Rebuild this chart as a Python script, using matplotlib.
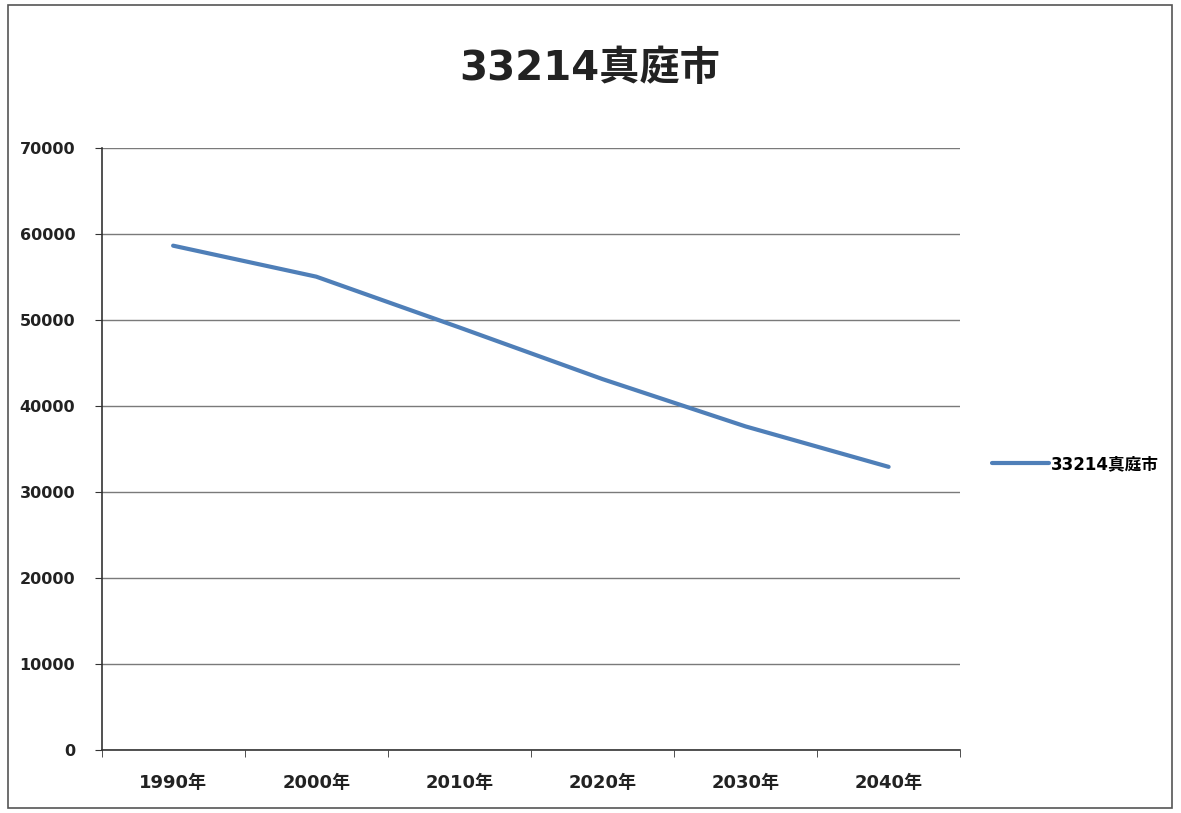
"""Population trend chart for 33214 真庭市 (1990-2040)."""

import matplotlib

matplotlib.use("Agg")
import matplotlib.pyplot as plt
from matplotlib.patches import Rectangle

plt.rcParams["font.family"] = ["DejaVu Sans", "Noto Sans CJK JP"]

SERIES_NAME = "33214真庭市"
years = ["1990年", "2000年", "2010年", "2020年", "2030年", "2040年"]
population = [58600, 55000, 49100, 43100, 37600, 32900]
y_ticks = [0, 10000, 20000, 30000, 40000, 50000, 60000, 70000]

LINE_COLOR = "#4f7fb8"
GRID_COLOR = "#7a7a7a"
TEXT_COLOR = "#222222"


def main() -> None:
    fig = plt.figure(figsize=(11.81, 8.13), dpi=100)
    fig.patch.set_facecolor("white")

    # scanned chart frame
    fig.add_artist(Rectangle((0.007, 0.006), 0.985, 0.988, transform=fig.transFigure,
                             fill=False, edgecolor="#555555", linewidth=1.2))

    ax = fig.add_axes([0.086, 0.0775, 0.727, 0.741])
    x = list(range(len(years)))
    ax.plot(x, population, color=LINE_COLOR, linewidth=3, solid_capstyle="round")

    ax.set_xlim(-0.5, len(years) - 0.5)
    ax.set_ylim(0, 70000)
    ax.set_yticks(y_ticks)
    ax.set_yticklabels([str(v) for v in y_ticks], fontsize=11.5, fontweight="bold", color=TEXT_COLOR)
    ax.set_xticks(x)
    ax.set_xticklabels(years, fontsize=13, fontweight="bold", color=TEXT_COLOR)
    ax.set_xticks([i - 0.5 for i in range(len(years) + 1)], minor=True)
    ax.tick_params(axis="x", which="major", length=0, pad=17)
    ax.tick_params(axis="x", which="minor", length=5, direction="out", color="#333333")
    ax.tick_params(axis="y", length=5, direction="out", color="#333333", pad=14)

    ax.grid(axis="y", color=GRID_COLOR, linewidth=1.0)
    ax.set_axisbelow(True)
    for side in ("top", "right"):
        ax.spines[side].set_visible(False)
    for side in ("left", "bottom"):
        ax.spines[side].set_color("#333333")
        ax.spines[side].set_linewidth(1.2)

    fig.text(0.499, 0.915, SERIES_NAME, ha="center", va="center",
             fontsize=29, fontweight="bold", color=TEXT_COLOR)

    ax.legend([SERIES_NAME], loc="center left", bbox_to_anchor=(1.02, 0.475),
              frameon=False, handlelength=3.4, handletextpad=0.1,
              prop={"weight": "bold", "size": 12})

    fig.savefig("out.png", dpi=100)
    plt.close(fig)


if __name__ == "__main__":
    main()
